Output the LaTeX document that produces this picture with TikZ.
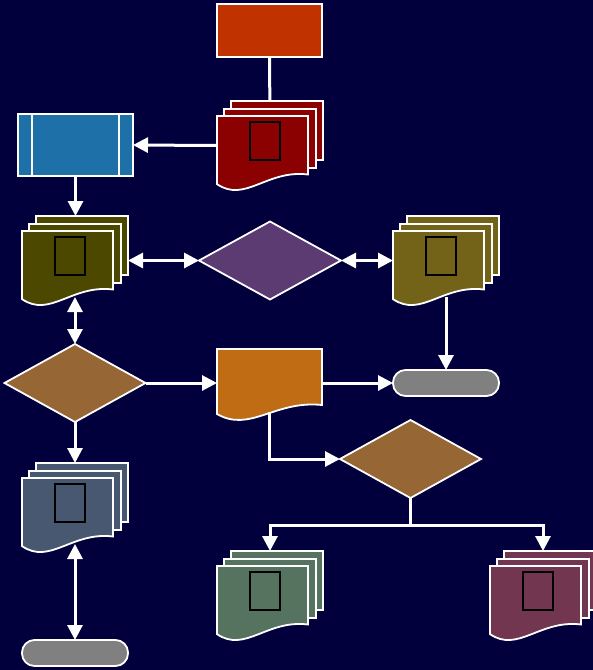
\documentclass[tikz,border=0pt]{standalone}
\usetikzlibrary{arrows.meta,shapes.geometric}

\definecolor{night}{RGB}{2,0,60}
\definecolor{rust}{RGB}{192,51,0}
\definecolor{darkred}{RGB}{139,0,0}
\definecolor{steel}{RGB}{29,113,168}
\definecolor{oliveA}{RGB}{77,72,0}
\definecolor{oliveB}{RGB}{114,99,25}
\definecolor{plum}{RGB}{91,59,114}
\definecolor{umber}{RGB}{150,103,52}
\definecolor{amber}{RGB}{191,108,20}
\definecolor{slate}{RGB}{71,88,112}
\definecolor{sage}{RGB}{86,115,96}
\definecolor{mauve}{RGB}{115,54,80}
\definecolor{stone}{RGB}{128,128,128}

% stack of three pages: name, left, top, fill
\newcommand{\multidoc}[4]{%
  \filldraw[page,fill=#4] ({#2+14},{#3}) rectangle ({#2+106},{#3+59});
  \filldraw[page,fill=#4] ({#2+7},{#3+8}) rectangle ({#2+99},{#3+67});
  \filldraw[page,fill=#4] ({#2},{#3+15}) -- ({#2+91},{#3+15}) -- ({#2+91},{#3+73.5})
    .. controls ({#2+50},{#3+68.3}) and ({#2+28},{#3+102.3}) .. ({#2},{#3+83.1}) -- cycle;
  \node[glyph] (#1-glyph) at ({#2+48},{#3+40}) {};
  \node[hull,minimum width=106pt,minimum height=89pt] (#1) at ({#2+53},{#3+44.5}) {};
  \coordinate (#1-foot) at ({#2+53},{#3+81});
}
% one page: name, left, top, fill
\newcommand{\singledoc}[4]{%
  \filldraw[page,fill=#4] ({#2},{#3}) -- ({#2+105},{#3}) -- ({#2+105},{#3+56})
    .. controls ({#2+58},{#3+51}) and ({#2+33},{#3+84}) .. ({#2},{#3+65}) -- cycle;
  \node[hull,minimum width=105pt,minimum height=68pt] (#1) at ({#2+52.5},{#3+34}) {};
  \coordinate (#1-foot) at ({#2+52},{#3+63});
}

\begin{document}
\begin{tikzpicture}[x=1pt,y=-1pt,>={Triangle[width=15pt,length=15pt]},
  link/.style={draw=white,line width=3pt},
  page/.style={draw=white,line width=1.8pt},
  hull/.style={inner sep=0pt,outer sep=0pt},
  glyph/.style={draw=black,line width=2.3pt,minimum width=30pt,minimum height=38pt,inner sep=0pt},
  flow box/.style={rectangle,draw=white,line width=1.8pt,inner sep=0pt,outer sep=0pt},
  decision/.style={diamond,draw=white,line width=1.8pt,inner sep=0pt,outer sep=0pt,
    minimum width=141pt,minimum height=78pt,fill=umber},
  end cap/.style={rectangle,rounded corners=12.5pt,draw=white,line width=1.8pt,
    inner sep=0pt,outer sep=0pt,minimum width=106pt,minimum height=26pt,fill=stone}]

 \fill[night] (0,0) rectangle (593,670);
 \useasboundingbox (0,0) rectangle (593,670);
 \clip (0,0) rectangle (593,670);

 \node[flow box,fill=rust,minimum width=105pt,minimum height=53pt] (start) at (269.5,30.5) {};
 \multidoc{inbox}{217}{101}{darkred}
 \node[flow box,fill=steel,minimum width=115pt,minimum height=62pt] (sub) at (75.5,145) {};
 \draw[page] ([xshift=14pt]sub.north west) -- ([xshift=14pt]sub.south west);
 \draw[page] ([xshift=-14pt]sub.north east) -- ([xshift=-14pt]sub.south east);
 \multidoc{files}{22}{216}{oliveA}
 \node[decision,fill=plum,minimum width=142pt] (query) at (270,260.5) {};
 \multidoc{notes}{393}{216}{oliveB}
 \node[decision] (check) at (75,383) {};
 \singledoc{report}{217}{349}{amber}
 \node[end cap] (stopright) at (446,383) {};
 \node[decision] (verify) at (410.5,459) {};
 \multidoc{archive}{22}{463}{slate}
 \node[end cap] (stopleft) at (75,653) {};
 \multidoc{accepted}{217}{551}{sage}
 \multidoc{rejected}{490}{551}{mauve}

 \coordinate (split) at ([yshift=-27pt]verify.south);

 \draw[link] (start) -- (inbox);
 \draw[link,->] (inbox.west) -- (sub.east);
 \draw[link,->] (sub.south) -- (sub.south |- files.north);
 \draw[link,<->] (files.east) -- (query.west);
 \draw[link,<->] (query.east) -- (notes.west);
 \draw[link,->] (notes-foot) -- (stopright.north);
 \draw[link,<->] (files-foot) -- (check.north);
 \draw[link,->] (check.east) -- (report.west);
 \draw[link,->] (report.east) -- (stopright.west);
 \draw[link,->] (check.south) -- (archive.north);
 \draw[link,<->] (archive-foot) -- (stopleft.north);
 \draw[link,->] (report-foot) |- (verify.west);
 \draw[link] (verify.south) -- (split);
 \draw[link,->] (split) -| (accepted.north);
 \draw[link,->] (split) -| (rejected.north);

\end{tikzpicture}
\end{document}
